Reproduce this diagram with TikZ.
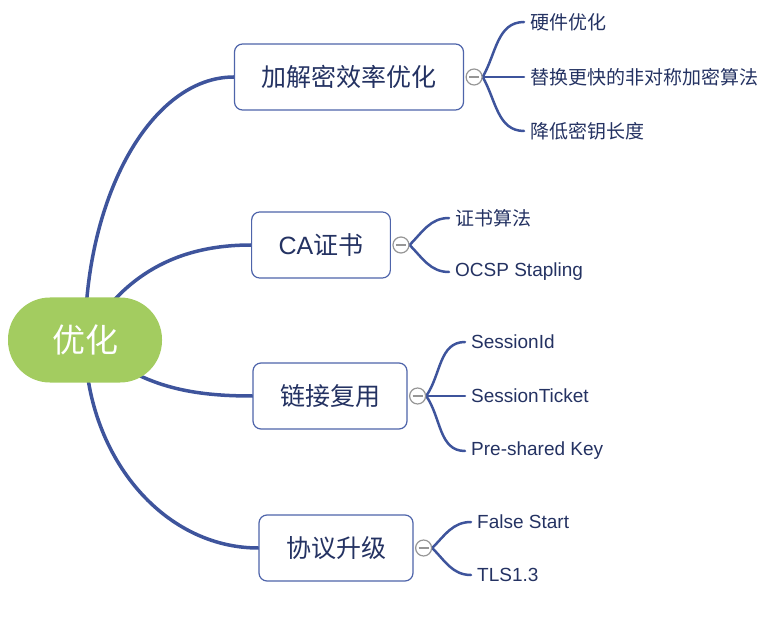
\documentclass[tikz,border=0pt]{standalone}
\usepackage{fontspec}
\setmainfont{Noto Sans CJK SC}
\newfontfamily\latinfont{Liberation Sans}
\usetikzlibrary{backgrounds}
\definecolor{branchBlue}{RGB}{62,84,156}
\definecolor{boxBlue}{RGB}{78,100,170}
\definecolor{inkNavy}{RGB}{36,50,98}
\definecolor{rootGreen}{RGB}{163,204,96}
\definecolor{foldGray}{RGB}{150,150,150}
\newcommand{\drawFoldMark}[2]{
  \node[fold mark] (#1) at (#2) {};
  \draw[foldGray, line width=1.4pt] ([xshift=-5pt]#1.center) -- ([xshift=5pt]#1.center);
}

\begin{document}
\begin{tikzpicture}[x=1pt, y=1pt,
    root/.style={fill=rootGreen, rounded corners=42pt, minimum width=154pt, minimum height=85pt,
      text=white, font=\fontsize{33}{40}\selectfont},
    topic/.style={draw=boxBlue, line width=1.2pt, fill=white, rounded corners=8pt,
      minimum height=66pt, inner xsep=27pt, text=inkNavy, font=\fontsize{25}{30}\selectfont},
    leaf/.style={anchor=west, inner xsep=6pt, text=inkNavy, font=\fontsize{19}{23}\selectfont},
    latin leaf/.style={leaf, font=\fontsize{19}{23}\selectfont\latinfont},
    fold mark/.style={circle, draw=foldGray, fill=white, line width=1.2pt, minimum size=16pt, inner sep=0pt},
    trunk/.style={draw=branchBlue, line width=3.5pt, line cap=round},
    twig/.style={draw=branchBlue, line width=2.5pt, line cap=round}]
  \useasboundingbox (0,0) rectangle (779,-628);

  \node[root] (root) at (85,-340) {优化};

  \node[topic] (enc) at (349,-77) {加解密效率优化};
  \node[topic] (ca) at (321,-245) {{\latinfont CA}证书};
  \node[topic] (reuse) at (330,-396) {链接复用};
  \node[topic] (proto) at (336,-548) {协议升级};

  \node[leaf] (hw) at (524,-22) {硬件优化};
  \node[leaf] (algo) at (524,-77) {替换更快的非对称加密算法};
  \node[leaf] (keylen) at (524,-131) {降低密钥长度};
  \node[leaf] (certalgo) at (449,-218) {证书算法};
  \node[latin leaf] (ocsp) at (449,-272) {OCSP Stapling};
  \node[latin leaf] (sid) at (465,-342) {SessionId};
  \node[latin leaf] (sticket) at (465,-396) {SessionTicket};
  \node[latin leaf] (psk) at (465,-451) {Pre-shared Key};
  \node[latin leaf] (fstart) at (471,-522) {False Start};
  \node[latin leaf] (tls) at (471,-575) {TLS1.3};

  \drawFoldMark{f1}{[xshift=10pt]enc.east}
  \drawFoldMark{f2}{[xshift=10pt]ca.east}
  \drawFoldMark{f3}{[xshift=10pt]reuse.east}
  \drawFoldMark{f4}{[xshift=10pt]proto.east}

  \begin{scope}[on background layer]
    % root to topics
    \draw[trunk] (root.center) .. controls +(0,145) and +(-82,0) .. (enc.west);
    \draw[trunk] (root.center) to[out=60, in=180] (ca.west);
    \draw[trunk] (root.center) to[out=-40, in=180] (reuse.west);
    \draw[trunk] (root.center) .. controls +(0,-115) and +(-96,0) .. (proto.west);
    % topics to leaves
    \draw[twig] (f1.east) to[out=60, in=180] (hw.west);
    \draw[twig] (f1.east) -- (algo.west);
    \draw[twig] (f1.east) to[out=-60, in=180] (keylen.west);
    \draw[twig] (f2.east) to[out=45, in=180] (certalgo.west);
    \draw[twig] (f2.east) to[out=-45, in=180] (ocsp.west);
    \draw[twig] (f3.east) to[out=55, in=180] (sid.west);
    \draw[twig] (f3.east) -- (sticket.west);
    \draw[twig] (f3.east) to[out=-55, in=180] (psk.west);
    \draw[twig] (f4.east) to[out=45, in=180] (fstart.west);
    \draw[twig] (f4.east) to[out=-45, in=180] (tls.west);
  \end{scope}
\end{tikzpicture}
\end{document}
